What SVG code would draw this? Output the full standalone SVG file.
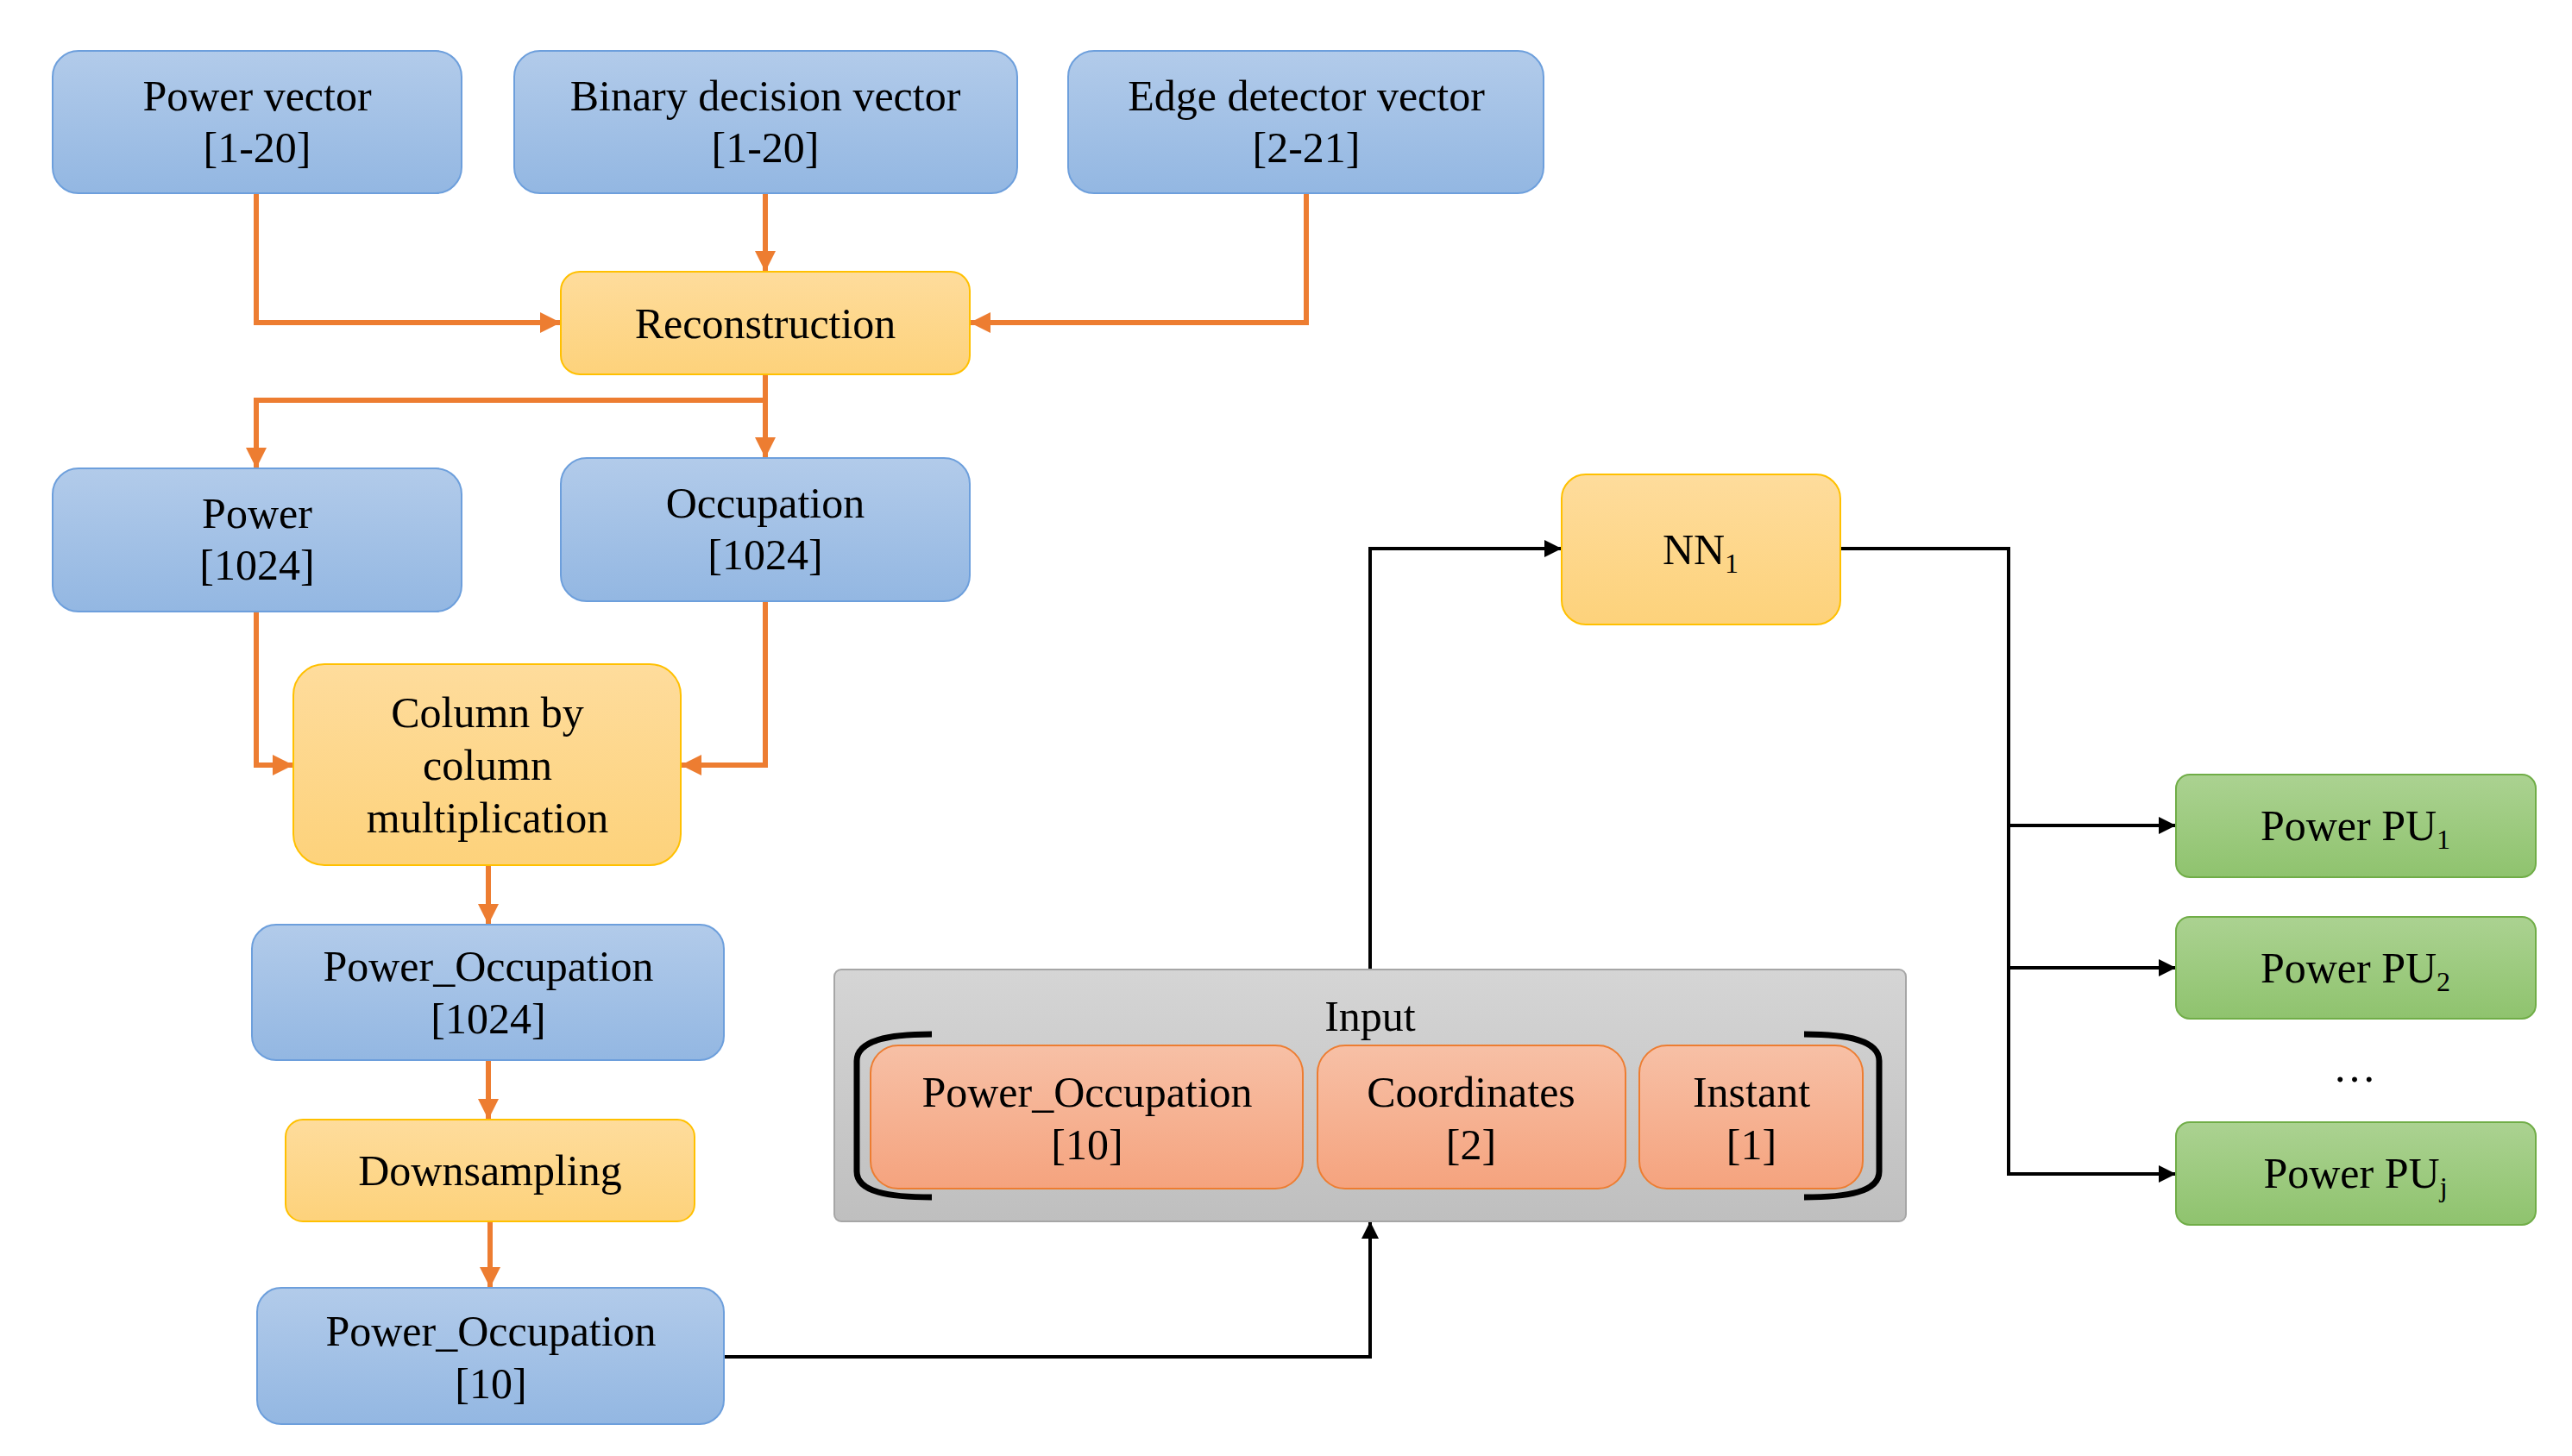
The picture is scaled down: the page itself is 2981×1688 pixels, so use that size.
<svg xmlns="http://www.w3.org/2000/svg" width="2981" height="1688" viewBox="0 0 2981 1688">
<defs>
<linearGradient id="gb" x1="0" y1="0" x2="0" y2="1"><stop offset="0" stop-color="#b2cbea"/><stop offset="1" stop-color="#93b7e2"/></linearGradient>
<linearGradient id="gy" x1="0" y1="0" x2="0" y2="1"><stop offset="0" stop-color="#fedc9c"/><stop offset="1" stop-color="#fdd27b"/></linearGradient>
<linearGradient id="go" x1="0" y1="0" x2="0" y2="1"><stop offset="0" stop-color="#f7c0a6"/><stop offset="1" stop-color="#f5a37e"/></linearGradient>
<linearGradient id="gg" x1="0" y1="0" x2="0" y2="1"><stop offset="0" stop-color="#abd291"/><stop offset="1" stop-color="#8fc36e"/></linearGradient>
<linearGradient id="gr" x1="0" y1="0" x2="0" y2="1"><stop offset="0" stop-color="#d5d5d5"/><stop offset="1" stop-color="#bfbfbf"/></linearGradient>
<marker id="ao" viewBox="0 0 10 10" refX="10" refY="5" markerWidth="4" markerHeight="4" orient="auto" markerUnits="strokeWidth"><path d="M0,0L10,5L0,10z" fill="#ed7d31"/></marker>
<marker id="ak" viewBox="0 0 10 10" refX="10" refY="5" markerWidth="5" markerHeight="5" orient="auto" markerUnits="strokeWidth"><path d="M0,0L10,5L0,10z" fill="#000"/></marker>
</defs>
<style>
text{font-family:"Liberation Serif","DejaVu Serif",serif;font-size:50px;fill:#000;text-anchor:middle}
.b{fill:url(#gb);stroke:#6d9fdc;stroke-width:2}
.y{fill:url(#gy);stroke:#ffc000;stroke-width:2}
.o{fill:url(#go);stroke:#ed7d31;stroke-width:2}
.g{fill:url(#gg);stroke:#70ad47;stroke-width:2}
.r{fill:url(#gr);stroke:#a6a6a6;stroke-width:2}
.co{fill:none;stroke:#ed7d31;stroke-width:6;marker-end:url(#ao)}
.ck{fill:none;stroke:#000;stroke-width:4;marker-end:url(#ak)}
.ln{fill:none;stroke:#ed7d31;stroke-width:6}
.br{fill:none;stroke:#000;stroke-width:7}
</style>
<g id="connectors">
<path class="co" d="M297,224V374H650"/>
<path class="co" d="M887,224V315"/>
<path class="co" d="M1514,224V374H1124"/>
<path class="co" d="M887,434V531"/>
<path class="co" d="M887,464H297V543"/>
<path class="co" d="M297,709V887H340"/>
<path class="co" d="M887,697V887H789"/>
<path class="co" d="M566,1003V1072"/>
<path class="co" d="M566,1229V1298"/>
<path class="co" d="M568,1416V1493"/>
<path class="ck" d="M839,1573H1588V1416"/>
<path class="ck" d="M1588,1124V636H1810"/>
<path class="ck" d="M2133,636H2328V1361H2522"/>
<path class="ck" d="M2328,957H2522"/>
<path class="ck" d="M2328,1122H2522"/>
</g>
<g id="power_vector"><rect class="b" x="61" y="59" width="474" height="165" rx="30"/><text x="298" y="128">Power vector</text><text x="298" y="188">[1-20]</text></g>
<g id="binary_vector"><rect class="b" x="596" y="59" width="583" height="165" rx="30"/><text x="887" y="128">Binary decision vector</text><text x="887" y="188">[1-20]</text></g>
<g id="edge_vector"><rect class="b" x="1238" y="59" width="551" height="165" rx="30"/><text x="1514" y="128">Edge detector vector</text><text x="1514" y="188">[2-21]</text></g>
<g id="reconstruction"><rect class="y" x="650" y="315" width="474" height="119" rx="22"/><text x="887" y="392">Reconstruction</text></g>
<g id="power1024"><rect class="b" x="61" y="543" width="474" height="166" rx="30"/><text x="298" y="612">Power</text><text x="298" y="672">[1024]</text></g>
<g id="occupation"><rect class="b" x="650" y="531" width="474" height="166" rx="30"/><text x="887" y="600">Occupation</text><text x="887" y="660">[1024]</text></g>
<g id="column"><rect class="y" x="340" y="770" width="449" height="233" rx="36"/><text x="565" y="843">Column by</text><text x="565" y="904">column</text><text x="565" y="965">multiplication</text></g>
<g id="po1024"><rect class="b" x="292" y="1072" width="547" height="157" rx="28"/><text x="566" y="1137">Power_Occupation</text><text x="566" y="1198">[1024]</text></g>
<g id="downsampling"><rect class="y" x="331" y="1298" width="474" height="118" rx="20"/><text x="568" y="1374">Downsampling</text></g>
<g id="po10"><rect class="b" x="298" y="1493" width="541" height="158" rx="28"/><text x="569" y="1560">Power_Occupation</text><text x="569" y="1621">[10]</text></g>
<g id="input"><rect class="r" x="967" y="1124" width="1242" height="292" rx="8"/><text x="1588" y="1195">Input</text>
<path class="br" d="M1080,1199C1030,1199 993,1206 993,1230V1358C993,1382 1030,1388 1080,1388"/>
<path class="br" d="M2091,1199C2141,1199 2178,1206 2178,1230V1358C2178,1382 2141,1388 2091,1388"/>
<rect class="o" x="1009" y="1212" width="501" height="166" rx="32"/><text x="1260" y="1283">Power_Occupation</text><text x="1260" y="1344">[10]</text>
<rect class="o" x="1527" y="1212" width="357" height="166" rx="32"/><text x="1705" y="1283">Coordinates</text><text x="1705" y="1344">[2]</text>
<rect class="o" x="1900" y="1212" width="259" height="166" rx="32"/><text x="2030" y="1283">Instant</text><text x="2030" y="1344">[1]</text>
</g>
<g id="nn1"><rect class="y" x="1810" y="550" width="323" height="174" rx="28"/><text x="1971" y="654">NN<tspan font-size="32" dy="10">1</tspan></text></g>
<g id="pu1"><rect class="g" x="2522" y="898" width="417" height="119" rx="16"/><text x="2730" y="974">Power PU<tspan font-size="32" dy="10">1</tspan></text></g>
<g id="pu2"><rect class="g" x="2522" y="1063" width="417" height="118" rx="16"/><text x="2730" y="1139">Power PU<tspan font-size="32" dy="10">2</tspan></text></g>
<text x="2729" y="1254">…</text>
<g id="puj"><rect class="g" x="2522" y="1301" width="417" height="119" rx="16"/><text x="2730" y="1377">Power PU<tspan font-size="32" dy="10">j</tspan></text></g>
</svg>
